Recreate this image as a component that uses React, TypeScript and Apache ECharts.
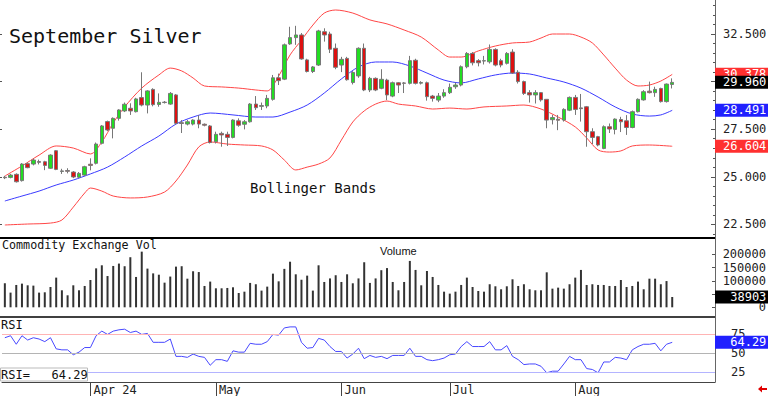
import React, { useEffect, useRef } from "react";
import * as echarts from "echarts";

// ---- categories (trading days) ----
const marDays = [8, 11, 12, 13, 14, 15, 18, 19, 20, 21, 22, 25, 26, 27, 28];
const aprDays = [1, 2, 3, 4, 5, 8, 9, 10, 11, 12, 15, 16, 17, 18, 19, 22, 23, 24, 25, 26, 29, 30];
const mayDays = [1, 2, 3, 6, 7, 8, 9, 10, 13, 14, 15, 16, 17, 20, 21, 22, 23, 24, 28, 29, 30, 31];
const junDays = [3, 4, 5, 6, 7, 10, 11, 12, 13, 14, 17, 18, 20, 21, 24, 25, 26, 27, 28];
const julDays = [1, 2, 3, 5, 8, 9, 10, 11, 12, 15, 16, 17, 18, 19, 22, 23, 24, 25, 26, 29, 30, 31];
const augDays = [1, 2, 5, 6, 7, 8, 9, 12, 13, 14, 15, 16, 19, 20, 21, 22, 23, 26];
const monthLabels: Record<string, string> = {
  "Apr 1": "Apr 24",
  "May 1": "May",
  "Jun 3": "Jun",
  "Jul 1": "Jul",
  "Aug 1": "Aug",
};
const emptySlots = 7;

// ---- candles [open, close, low, high] ----
const candles = [
  [24.98, 24.95, 24.88, 25.05], [24.97, 25.09, 24.92, 25.15], [25.13, 24.74, 24.70, 25.18], [24.80, 25.67, 24.75, 25.72],
  [25.69, 25.48, 25.45, 25.75], [25.67, 25.88, 25.60, 25.95], [25.80, 25.76, 25.65, 25.90], [25.79, 25.60, 25.35, 25.84],
  [25.45, 26.14, 25.42, 26.18], [26.37, 25.39, 25.35, 26.40], [25.28, 25.31, 25.15, 25.42], [25.33, 25.29, 25.18, 25.45],
  [25.25, 24.99, 24.93, 25.30], [24.98, 25.18, 24.93, 25.25], [25.09, 25.53, 25.05, 25.58], [25.66, 25.60, 25.34, 25.97],
  [25.71, 26.72, 25.65, 26.80], [26.76, 27.67, 26.70, 27.72], [27.90, 27.46, 27.40, 27.95], [27.55, 28.07, 27.02, 28.12],
  [28.07, 28.51, 27.95, 28.55], [28.46, 28.81, 28.40, 28.90], [28.60, 28.46, 28.25, 28.86], [28.42, 29.09, 28.38, 29.15],
  [29.16, 28.77, 28.70, 30.49], [28.77, 29.51, 28.33, 29.55], [29.59, 28.79, 28.70, 29.65], [28.80, 28.91, 28.68, 29.38],
  [28.90, 28.92, 28.85, 28.98], [28.82, 29.38, 28.78, 29.45], [29.30, 27.81, 27.75, 29.35], [27.84, 27.80, 27.30, 27.98],
  [27.77, 27.89, 27.70, 27.98], [27.77, 27.98, 27.70, 28.02], [27.98, 27.77, 27.55, 28.24], [27.76, 27.71, 27.65, 27.80],
  [27.67, 26.80, 26.75, 27.72], [26.84, 27.23, 26.75, 27.37], [27.28, 27.20, 26.58, 27.37], [27.23, 27.07, 26.62, 27.37],
  [27.07, 27.98, 27.02, 28.02], [27.94, 27.71, 27.63, 28.07], [27.76, 27.89, 27.49, 27.98], [27.89, 28.82, 27.85, 28.87],
  [28.82, 28.63, 28.51, 29.24], [28.70, 28.74, 28.51, 28.90], [28.72, 29.12, 28.60, 29.30], [29.07, 30.20, 29.00, 30.35],
  [30.20, 30.05, 29.82, 30.42], [30.13, 31.93, 30.08, 32.00], [31.98, 32.31, 31.93, 32.88], [32.31, 32.45, 31.93, 32.93],
  [32.45, 31.19, 31.15, 32.55], [31.14, 30.53, 30.48, 31.20], [30.53, 30.77, 30.45, 30.82], [30.87, 32.66, 30.82, 32.72],
  [32.62, 32.45, 32.10, 32.80], [32.50, 31.70, 31.50, 32.62], [31.75, 30.75, 30.65, 32.00], [30.87, 31.17, 30.50, 31.30],
  [31.22, 30.10, 30.05, 31.30], [29.95, 30.48, 29.85, 30.55], [30.30, 31.75, 30.20, 31.80], [31.75, 29.56, 29.50, 32.00],
  [29.56, 30.17, 29.45, 30.25], [30.17, 29.56, 29.50, 30.22], [29.65, 30.12, 29.60, 30.65], [30.08, 29.30, 29.03, 30.15],
  [29.24, 29.94, 29.18, 30.00], [29.94, 29.82, 29.40, 29.98], [29.93, 29.91, 29.40, 29.98], [29.91, 31.10, 29.85, 31.35],
  [31.12, 29.91, 29.85, 31.20], [29.92, 29.95, 29.85, 30.02], [29.94, 29.21, 29.00, 30.00], [29.24, 29.12, 28.95, 29.30],
  [29.03, 29.24, 28.92, 29.40], [29.24, 29.42, 29.15, 29.60], [29.42, 29.70, 29.35, 29.90], [29.73, 29.82, 29.62, 29.95],
  [29.82, 30.78, 29.75, 30.85], [30.78, 31.48, 30.70, 31.55], [31.48, 30.99, 30.85, 31.55], [31.10, 30.99, 30.80, 31.18],
  [31.08, 31.10, 30.90, 31.35], [31.04, 31.69, 30.95, 31.95], [31.69, 30.87, 30.80, 31.75], [31.10, 30.87, 30.75, 31.20],
  [30.96, 31.48, 30.90, 31.55], [31.55, 30.45, 30.40, 31.70], [30.49, 30.00, 29.90, 30.60], [30.00, 29.38, 29.30, 30.05],
  [29.42, 29.30, 28.90, 29.55], [29.30, 29.42, 28.85, 29.55], [29.42, 29.04, 28.95, 29.45], [29.07, 27.98, 27.55, 29.07],
  [28.00, 28.11, 27.75, 28.25], [28.02, 27.97, 27.45, 28.25], [27.98, 28.54, 27.90, 28.60], [28.50, 29.17, 28.45, 29.22],
  [29.17, 28.54, 28.25, 29.30], [28.62, 28.58, 27.90, 29.35], [28.68, 27.37, 26.58, 28.72], [27.37, 27.07, 26.72, 27.55],
  [27.11, 26.67, 26.60, 27.15], [26.49, 27.63, 26.45, 27.70], [27.63, 27.51, 27.30, 27.80], [27.49, 28.03, 27.23, 28.07],
  [28.01, 27.89, 27.35, 28.15], [27.94, 27.59, 27.20, 28.24], [27.59, 28.42, 27.55, 28.48], [28.42, 29.07, 28.38, 29.12],
  [29.04, 29.47, 29.00, 29.55], [29.50, 29.42, 29.38, 30.00], [29.42, 29.59, 29.20, 29.73], [29.64, 28.95, 28.90, 29.68],
  [28.95, 29.87, 28.90, 29.90], [29.85, 29.96, 29.64, 30.17],
];

// ---- Bollinger bands, read at [day index, price] ----
const upperBand = [
  [0, 25.04], [3, 25.57], [6, 26.14], [9, 26.62], [12, 26.51], [15, 26.2], [17, 26.83], [19, 27.83], [21, 28.67],
  [24, 29.66], [27, 30.35], [29, 30.71], [31, 30.56], [33, 30.19], [35, 29.77], [38, 29.72], [41, 29.66], [44, 29.56],
  [46, 29.51], [48, 30.29], [50, 31.4], [52, 32.18], [54, 32.97], [56, 33.6], [58, 33.76], [61, 33.6], [64, 33.24],
  [67, 33.03], [70, 32.71], [73, 32.34], [76, 31.66], [78, 31.29], [80, 31.29], [83, 31.61], [86, 31.87], [89, 32.03],
  [92, 32.08], [94, 32.29], [96, 32.5], [99, 32.5], [101, 32.34], [103, 32.03], [105, 31.4], [107, 30.71], [109, 30.08],
  [111, 29.77], [113, 29.82], [115, 30.03], [117, 30.378],
];
const middleBand = [
  [0, 23.73], [3, 23.99], [6, 24.25], [9, 24.57], [12, 24.83], [15, 25.15], [18, 25.51], [21, 26.04], [24, 26.62],
  [27, 27.14], [30, 27.77], [33, 28.14], [36, 28.35], [40, 28.25], [44, 28.14], [47, 28.14], [50, 28.4], [53, 28.77],
  [56, 29.4], [59, 30.14], [62, 30.77], [65, 31.03], [68, 31.03], [71, 30.82], [74, 30.45], [77, 30.08], [80, 29.93],
  [83, 30.14], [86, 30.35], [89, 30.45], [92, 30.4], [95, 30.19], [98, 29.98], [101, 29.66], [104, 29.19], [107, 28.67],
  [110, 28.3], [113, 28.19], [115, 28.25], [117, 28.491],
];
const lowerBand = [
  [0, 22.47], [4, 22.52], [8, 22.57], [10, 22.73], [12, 23.41], [14, 24.15], [15, 24.41], [17, 24.25], [19, 23.99],
  [22, 23.89], [25, 23.94], [28, 24.2], [30, 24.78], [32, 25.62], [34, 26.57], [36, 26.83], [39, 26.72], [42, 26.67],
  [45, 26.62], [47, 26.41], [49, 25.88], [51, 25.36], [53, 25.51], [55, 25.67], [57, 25.99], [59, 26.93], [61, 27.88],
  [63, 28.46], [65, 28.82], [67, 28.98], [69, 28.82], [72, 28.72], [75, 28.56], [78, 28.61], [81, 28.56], [84, 28.67],
  [88, 28.72], [91, 28.77], [94, 28.56], [97, 28.14], [100, 27.62], [102, 27.04], [104, 26.41], [106, 26.3], [108, 26.36],
  [110, 26.62], [113, 26.67], [117, 26.604],
];

// ---- volume ----
const volume = [
  90600, 55400, 84300, 89300, 83000, 81800, 55400, 56600, 76700, 112000,
  64200, 45300, 83000, 64200, 80500, 103000, 147000, 158500, 118000, 156000,
  165000, 155000, 189000, 114500, 210000, 146000, 128000, 123000, 93000, 116000,
  153500, 155000, 108000, 136000, 133000, 80500, 97000, 71700, 71700, 73000,
  75500, 54000, 59000, 92000, 87000, 63000, 78000, 127000, 98000, 145000,
  172000, 124500, 104000, 119500, 63000, 158500, 95600, 109000, 121000, 95600,
  124500, 90600, 109000, 170000, 92000, 109000, 140000, 148000, 95600, 64200,
  95600, 175000, 141000, 83000, 137000, 114500, 84300, 59000, 51600, 59000,
  84300, 112000, 76700, 61600, 59000, 87000, 79300, 68000, 79300, 105700,
  80500, 87000, 68000, 64200, 64200, 132000, 70400, 74200, 70400, 87000,
  112000, 141000, 84300, 87000, 84300, 84300, 80500, 80500, 103000, 76700,
  80500, 97000, 68000, 108000, 108000, 87000, 99000, 38903,
];

// ---- RSI ----
const rsi = [
  70.3, 72.9, 61.8, 72.9, 67.3, 70.3, 68.6, 65.2, 70.3, 55.8,
  54.5, 54.5, 48.1, 51.5, 57.5, 57.5, 72.9, 78.9, 74.6, 78.9,
  80.6, 81.4, 77.1, 78.9, 74.6, 75.9, 64.3, 64.3, 64.3, 68.6,
  46.0, 46.0, 44.7, 49.0, 46.0, 44.7, 34.4, 41.7, 41.7, 39.5,
  53.2, 51.5, 51.5, 63.0, 61.8, 61.8, 65.2, 74.6, 73.7, 83.1,
  84.4, 84.4, 64.3, 56.6, 57.5, 69.4, 67.3, 58.8, 52.4, 52.4,
  43.8, 49.0, 56.6, 43.0, 47.2, 44.7, 46.0, 43.0, 47.2, 47.2,
  47.2, 56.6, 46.0, 46.0, 41.7, 40.4, 41.7, 43.8, 48.1, 49.0,
  58.8, 65.2, 58.8, 58.8, 58.8, 65.2, 54.5, 54.5, 60.0, 46.0,
  41.7, 35.3, 36.1, 36.1, 33.1, 24.6, 26.7, 26.7, 36.1, 46.0,
  41.7, 41.7, 30.1, 28.9, 24.6, 38.7, 38.7, 44.7, 43.8, 41.7,
  54.5, 58.8, 61.8, 61.8, 63.0, 53.2, 61.8, 64.29,
];

// ---- axis ticks / labels ----
const priceTicks = [22.5, 25, 27.5, 30, 32.5];
const priceLabels = [22.5, 25, 27.5, 32.5]; // 30.000 sits under the value boxes
const priceMinorTicks = [22, 22.5, 23, 23.5, 24, 24.5, 25, 25.5, 26, 26.5, 27, 27.5, 28, 28.5, 29, 29.5, 30, 30.5, 31, 31.5, 32, 32.5, 33, 33.5, 34];
const volumeTicks = [0, 50000, 100000, 150000, 200000];
const volumeLabels = [0, 100000, 150000, 200000]; // 50000 sits under the value box
const rsiTicks = [25, 50, 75];
const rsiLevels = [75, 50, 25];

const MONO = '"DejaVu Sans Mono", monospace';
const CLEAR = "rgba(0,0,0,0)";

function buildCategories() {
  const out: string[] = [];
  const months: [string, number[]][] = [
    ["Mar", marDays], ["Apr", aprDays], ["May", mayDays], ["Jun", junDays], ["Jul", julDays], ["Aug", augDays],
  ];
  months.forEach(([m, days]) => days.forEach((d) => out.push(`${m} ${d}`)));
  for (let k = 0; k < emptySlots; k++) out.push(`pad${k}`);
  return out;
}

function boxLabel(bg: string, text: string) {
  return {
    show: true,
    position: "end",
    distance: 0,
    formatter: text,
    backgroundColor: bg,
    color: "#fff",
    fontFamily: MONO,
    fontSize: 12,
    lineHeight: 12,
    padding: [1, 2, 0, 8],
  };
}

function valueMark(value: number, bg: string, text: string) {
  return {
    silent: true,
    symbol: "none",
    lineStyle: { color: CLEAR, width: 1, type: "solid" },
    data: [{ yAxis: value, lineStyle: { color: CLEAR }, label: boxLabel(bg, text) }],
  };
}

export default function App() {
  const ref = useRef<HTMLDivElement>(null);
  useEffect(() => {
    if (!ref.current) return;
    const chart = echarts.init(ref.current, undefined, { renderer: "svg" });
    const categories = buildCategories();
    const lastUpper = upperBand[upperBand.length - 1][1];
    const lastMiddle = middleBand[middleBand.length - 1][1];
    const lastLower = lowerBand[lowerBand.length - 1][1];
    const lastClose = candles[candles.length - 1][1];
    const lastVol = volume[volume.length - 1];
    const lastRsi = rsi[rsi.length - 1];

    const isMonth = (_i: number, v: string) => !!monthLabels[v];
    const baseGrid = { left: 2, right: 53, outerBoundsMode: "none", containLabel: false };
    const hiddenX = (gi: number) => ({
      type: "category",
      gridIndex: gi,
      data: categories,
      show: false,
    });

    const option: any = {
      animation: false,
      backgroundColor: "#fff",
      grid: [
        { ...baseGrid, top: 0, height: 238 },
        { ...baseGrid, top: 238, height: 79 },
        { ...baseGrid, top: 317, height: 65 },
      ],
      xAxis: [
        hiddenX(0),
        hiddenX(1),
        {
          type: "category",
          gridIndex: 2,
          data: categories,
          axisLine: { show: true, lineStyle: { color: "#444", width: 1 } },
          axisTick: { show: true, interval: isMonth, alignWithLabel: true, length: 14, lineStyle: { color: "#444" } },
          axisLabel: {
            interval: isMonth,
            formatter: (v: string) => monthLabels[v] || "",
            align: "left",
            margin: 2,
            padding: [0, 0, 0, 3],
            fontFamily: MONO,
            fontSize: 12,
            color: "#222",
          },
          splitLine: { show: false },
        },
      ],
      yAxis: [
        {
          type: "value",
          gridIndex: 0,
          position: "right",
          min: 21.786,
          max: 34.286,
          axisLine: { show: true, lineStyle: { color: "#666" } },
          axisTick: { show: true, inside: true, length: 4, customValues: priceTicks, lineStyle: { color: "#555" } },
          axisLabel: {
            customValues: priceLabels,
            formatter: (v: number) => v.toFixed(3),
            margin: 8,
            fontFamily: MONO,
            fontSize: 12,
            color: "#222",
          },
          splitLine: { show: false },
        },
        {
          type: "value",
          gridIndex: 0,
          position: "right",
          min: 21.786,
          max: 34.286,
          axisLine: { show: false },
          axisTick: { show: true, inside: true, length: 2, customValues: priceMinorTicks, lineStyle: { color: "#555" } },
          axisLabel: { show: false },
          splitLine: { show: false },
        },
        {
          type: "value",
          gridIndex: 0,
          position: "left",
          min: 21.786,
          max: 34.286,
          axisLine: { show: false },
          axisTick: { show: true, length: 2, customValues: priceTicks, lineStyle: { color: "#555" } },
          axisLabel: { show: false },
          splitLine: { show: false },
        },
        {
          type: "value",
          gridIndex: 1,
          position: "right",
          min: -36600,
          max: 261500,
          axisLine: { show: true, lineStyle: { color: "#666" } },
          axisTick: { show: true, inside: true, length: 3, customValues: volumeTicks, lineStyle: { color: "#555" } },
          axisLabel: {
            customValues: volumeLabels,
            formatter: (v: number) => String(Math.round(v)),
            align: "right",
            margin: 51,
            fontFamily: MONO,
            fontSize: 12,
            color: "#222",
          },
          splitLine: { show: false },
        },
        {
          type: "value",
          gridIndex: 2,
          position: "right",
          min: 12.6,
          max: 97.3,
          axisLine: { show: true, lineStyle: { color: "#666" } },
          axisTick: { show: true, inside: true, length: 3, customValues: rsiTicks, lineStyle: { color: "#555" } },
          axisLabel: {
            customValues: rsiTicks,
            margin: 16,
            fontFamily: MONO,
            fontSize: 12,
            color: "#222",
          },
          splitLine: { show: false },
        },
      ],
      series: [
        {
          type: "line",
          name: "Upper",
          xAxisIndex: 0,
          yAxisIndex: 0,
          data: upperBand,
          symbol: "none",
          smooth: 0.3,
          lineStyle: { color: "#ff4646", width: 1 },
          z: 2,
          markLine: valueMark(lastUpper, "#ff3030", lastUpper.toFixed(3)),
        },
        {
          type: "line",
          name: "Lower",
          xAxisIndex: 0,
          yAxisIndex: 0,
          data: lowerBand,
          symbol: "none",
          smooth: 0.3,
          lineStyle: { color: "#ff4646", width: 1 },
          z: 2,
          markLine: valueMark(lastLower, "#ff3030", lastLower.toFixed(3)),
        },
        {
          type: "line",
          name: "Middle",
          xAxisIndex: 0,
          yAxisIndex: 0,
          data: middleBand,
          symbol: "none",
          smooth: 0.3,
          lineStyle: { color: "#3a3aff", width: 1 },
          z: 2,
          markLine: valueMark(lastMiddle, "#2020ff", lastMiddle.toFixed(3)),
        },
        {
          type: "candlestick",
          name: "Price",
          xAxisIndex: 0,
          yAxisIndex: 0,
          data: candles,
          barWidth: 4,
          z: 3,
          itemStyle: {
            color: "#22dd22",
            color0: "#dd1111",
            borderColor: "#777",
            borderColor0: "#777",
            borderWidth: 1,
          },
          markLine: valueMark(lastClose, "#000", lastClose.toFixed(3)),
        },
        {
          type: "bar",
          name: "Volume",
          xAxisIndex: 1,
          yAxisIndex: 3,
          data: volume,
          barWidth: 2,
          itemStyle: { color: "#333" },
          markLine: valueMark(lastVol, "#000", String(lastVol).padStart(6, " ")),
        },
        {
          type: "line",
          name: "RSI",
          xAxisIndex: 2,
          yAxisIndex: 4,
          data: rsi,
          symbol: "none",
          lineStyle: { color: "#4848ff", width: 1 },
          z: 3,
          markLine: {
            silent: true,
            symbol: "none",
            lineStyle: { type: "solid", width: 1 },
            label: { show: false },
            data: [
              { yAxis: rsiLevels[0], lineStyle: { color: "#ffb4b4", type: "solid" }, label: { show: false } },
              { yAxis: rsiLevels[1], lineStyle: { color: "#b4b4b4", type: "solid" }, label: { show: false } },
              { yAxis: rsiLevels[2], lineStyle: { color: "#b4b4ff", type: "solid" }, label: { show: false } },
              {
                yAxis: lastRsi,
                lineStyle: { color: CLEAR },
                label: boxLabel("#2020ff", lastRsi.toFixed(2).padStart(6, " ")),
              },
            ],
          },
        },
      ],
      graphic: [
        { type: "line", shape: { x1: 0, y1: 238, x2: 715, y2: 238 }, style: { stroke: "#000", lineWidth: 2 }, z: 10 },
        { type: "line", shape: { x1: 0, y1: 317, x2: 715, y2: 317 }, style: { stroke: "#000", lineWidth: 1.5 }, z: 10 },
        {
          type: "text",
          x: 9,
          y: 36,
          style: { text: "September Silver", font: `20px ${MONO}`, fill: "#111", verticalAlign: "middle" },
          z: 10,
        },
        {
          type: "text",
          x: 250,
          y: 188,
          style: { text: "Bollinger Bands", font: `14px ${MONO}`, fill: "#111", verticalAlign: "middle" },
          z: 10,
        },
        {
          type: "text",
          x: 2,
          y: 245,
          style: { text: "Commodity Exchange Vol", font: `11.7px ${MONO}`, fill: "#111", verticalAlign: "middle" },
          z: 10,
        },
        {
          type: "text",
          x: 380,
          y: 251,
          style: { text: "Volume", font: `11px "Liberation Sans", Arial, sans-serif`, fill: "#111", verticalAlign: "middle" },
          z: 10,
        },
        {
          type: "text",
          x: 1,
          y: 325,
          style: { text: "RSI", font: `12px ${MONO}`, fill: "#111", verticalAlign: "middle" },
          z: 10,
        },
        {
          type: "rect",
          shape: { x: 0.5, y: 368, width: 87, height: 13 },
          style: { fill: "#fff", stroke: "#bbb", lineWidth: 1 },
          z: 10,
        },
        {
          type: "text",
          x: 1,
          y: 375,
          style: { text: "RSI=   " + lastRsi.toFixed(2), font: `12px ${MONO}`, fill: "#111", verticalAlign: "middle" },
          z: 11,
        },
        {
          type: "polygon",
          shape: { points: [[758, 389], [762, 385.5], [762, 388], [767, 388], [767, 390], [762, 390], [762, 392.5]] },
          style: { fill: "#e00000" },
          z: 10,
        },
      ],
    };
    chart.setOption(option);
    return () => chart.dispose();
  }, []);
  return (
    <div
      ref={ref}
      style={{ position: "fixed", left: 0, top: 0, width: 768, height: 396, background: "#fff" }}
    />
  );
}
